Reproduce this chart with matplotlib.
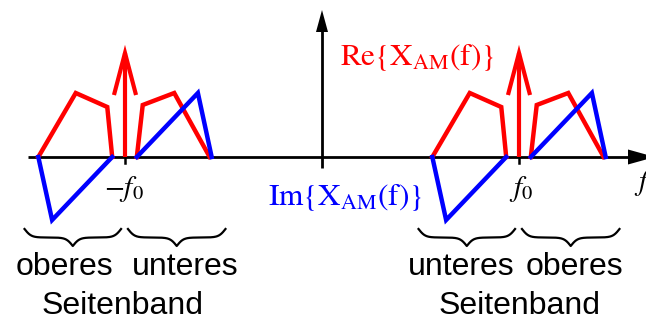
import numpy as np
import matplotlib
matplotlib.use("Agg")
import matplotlib.pyplot as plt
from matplotlib.patches import Polygon

plt.rcParams["mathtext.fontset"] = "stix"

# carrier frequency and carrier line height (arbitrary units)
f0 = 100
carrier_amp = 104
carriers = [-f0, f0]

# real part of the message spectrum around each carrier (offset, amplitude)
re_lsb_df = [-44, -25, -9, -6.5]
re_lsb_amp = [0, 64, 50, 0]
re_usb_df = [6, 9, 25, 43]
re_usb_amp = [0, 52, 64, 0]

# imaginary part of the message spectrum around each carrier
im_lsb_df = [-44, -37, -6.5]
im_lsb_amp = [0, -63, 0]
im_usb_df = [6, 37, 44]
im_usb_amp = [0, 64, 0]

# sideband names below the braces, per carrier (lower, upper)
band_names = {-f0: ("oberes", "unteres"), f0: ("unteres", "oberes")}
band_title = "Seitenband"

RED = "#ff0000"
BLUE = "#0000ff"

W, H = 646, 322
fig = plt.figure(figsize=(W / 100, H / 100), dpi=100)
ax = fig.add_axes([0, 0, 1, 1])
ax.axis("off")

# frequency axis: 1 unit = 1.97 px, origin at (322, 157) px
SX = 1.97
OX, OY = 322, 157
ax.set_xlim(-OX / SX, (W - OX) / SX)
ax.set_ylim(-(H - OY), OY)


def dx(xp):
    return (xp - OX) / SX


def dy(yp):
    return OY - yp


# axes
ax.plot([dx(28), dx(632)], [0, 0], color="black", lw=2.0, solid_capstyle="butt", zorder=1)
ax.add_patch(Polygon([(dx(628), dy(149.5)), (dx(655), 0), (dx(628), dy(164.5))],
                     closed=True, color="black", lw=0, zorder=1))
ax.plot([0, 0], [dy(168), dy(30)], color="black", lw=2.0, solid_capstyle="butt", zorder=1)
ax.add_patch(Polygon([(dx(316), dy(32)), (0, dy(10)), (dx(328), dy(32))],
                     closed=True, color="black", lw=0, zorder=1))

lw = 3.2
for c in carriers:
    # tick mark at the carrier
    ax.plot([c, c], [5, -6], color="black", lw=1.8, zorder=2)
    # real part
    ax.plot(c + np.array(re_lsb_df), re_lsb_amp, color=RED, lw=lw,
            solid_joinstyle="miter", zorder=3)
    ax.plot(c + np.array(re_usb_df), re_usb_amp, color=RED, lw=lw,
            solid_joinstyle="miter", zorder=3)
    # carrier line with open arrow head
    ax.plot([c, c], [0, carrier_amp], color=RED, lw=3.0, solid_capstyle="butt", zorder=3)
    hw, hl = 10.5 / SX, 40
    ax.plot([c - hw, c, c + hw], [carrier_amp - hl, carrier_amp, carrier_amp - hl],
            color=RED, lw=3.0, solid_joinstyle="miter", zorder=3)
    # imaginary part
    ax.plot(c + np.array(im_lsb_df), im_lsb_amp, color=BLUE, lw=lw,
            solid_joinstyle="miter", zorder=4)
    ax.plot(c + np.array(im_usb_df), im_usb_amp, color=BLUE, lw=lw,
            solid_joinstyle="miter", zorder=4)


def brace(x0, x1, ytop, ytip, n=300, beta=0.3):
    half = np.linspace(0, (x1 - x0) / 2, n)
    b = beta * SX
    y = 1 / (1 + np.exp(-b * (half - half[0]))) + 1 / (1 + np.exp(-b * (half - half[-1])))
    yy = np.concatenate([y, y[-2::-1]])
    xx = np.linspace(x0, x1, len(yy))
    yy = (yy - yy[0]) / (yy.max() - yy[0])
    ax.plot(xx, ytop + yy * (ytip - ytop), color="black", lw=1.6, zorder=2)


brace_top, brace_tip = dy(229), dy(246)
for c in carriers:
    lo = min(re_lsb_df + im_lsb_df) - 7
    hi = max(re_usb_df + im_usb_df) + 7
    brace(c + lo, c - 2, brace_top, brace_tip)
    brace(c + 1.5, c + hi, brace_top, brace_tip)

sans = dict(family="Liberation Sans", fontsize=23, color="black",
            ha="center", va="baseline")
name_pos = {-f0: (64, 185, 123), f0: (461, 574, 520)}
for c in carriers:
    xl, xu, xs = name_pos[c]
    ax.text(dx(xl), dy(275), band_names[c][0], **sans)
    ax.text(dx(xu), dy(275), band_names[c][1], **sans)
    ax.text(dx(xs), dy(314), band_title, **sans)

# frequency labels
ax.text(dx(104), dy(196), r"$-f_0$", fontsize=21, ha="left", va="baseline")
ax.text(dx(509), dy(196), r"$f_0$", fontsize=21, ha="left", va="baseline")
ax.text(dx(634), dy(190), r"$f$", fontsize=21, ha="left", va="baseline", clip_on=False)

# spectrum part labels
ax.text(dx(340), dy(65), r"$\mathrm{Re}\{\mathrm{X}_{\mathrm{AM}}(\mathrm{f})\}$",
        fontsize=22.5, color=RED, ha="left", va="baseline")
ax.text(dx(268), dy(205), r"$\mathrm{Im}\{\mathrm{X}_{\mathrm{AM}}(\mathrm{f})\}$",
        fontsize=22.5, color=BLUE, ha="left", va="baseline")

fig.savefig("out.png", dpi=100)
